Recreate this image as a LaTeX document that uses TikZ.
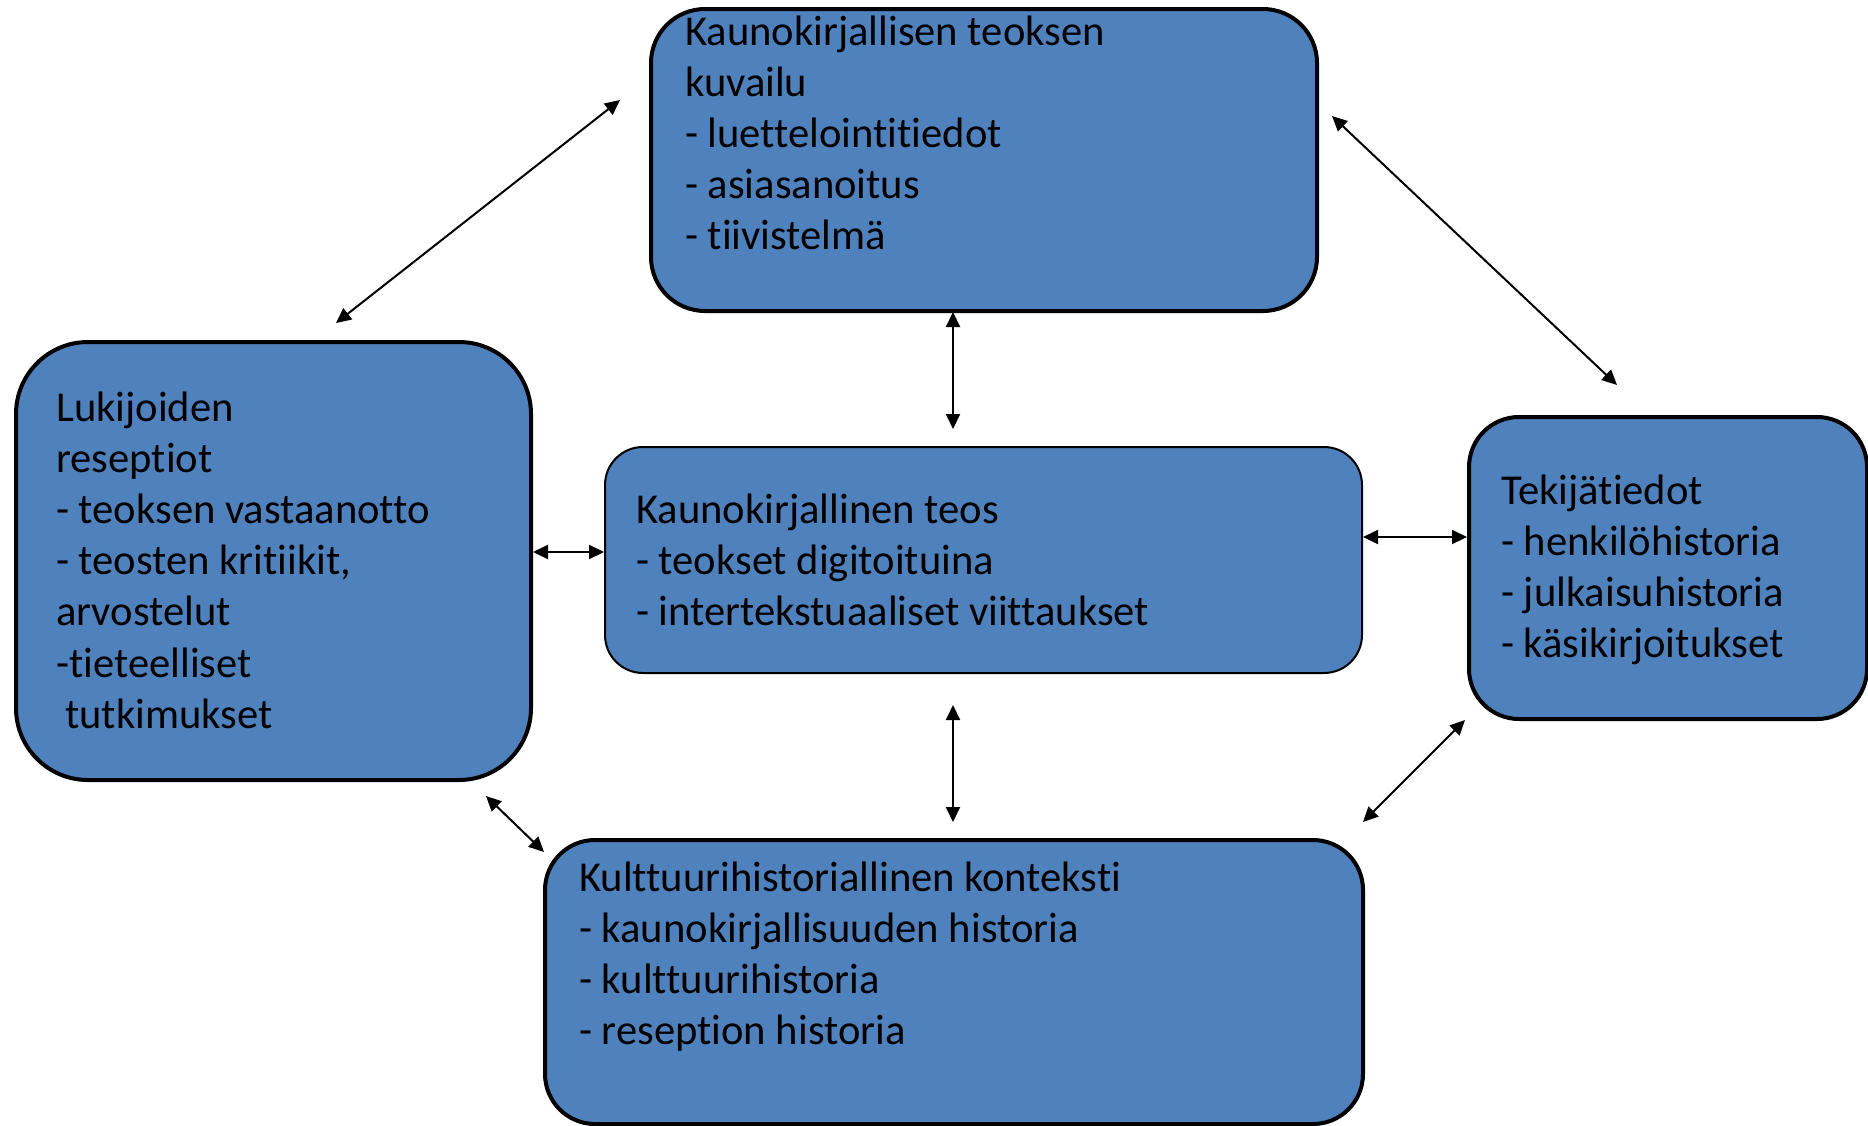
\documentclass[tikz,border=0pt]{standalone}
\usepackage{fontspec}
\setmainfont{Carlito}[Ligatures={NoCommon}]
\usetikzlibrary{arrows.meta}
\definecolor{boxblue}{HTML}{4F81BD}
\begin{document}
\begin{tikzpicture}[x=1pt,y=-1pt,
  box/.style={draw=black, fill=boxblue, line width=4pt, inner sep=0pt, anchor=north west},
  thinbox/.style={box, line width=2pt},
  txt/.style={anchor=base west, inner sep=0pt, font=\fontsize{42.6}{51.2}\selectfont},
  link/.style={line width=2pt, {Triangle[length=15pt,width=14pt]}-{Triangle[length=15pt,width=14pt]}}]
\useasboundingbox (0,0) rectangle (1868,1125);
% boxes
\node[box, minimum width=666pt, minimum height=302pt, rounded corners=54pt] (top) at (649,7) {};
\node[box, minimum width=515pt, minimum height=438pt, rounded corners=72pt] (left) at (14,340) {};
\node[thinbox, minimum width=757pt, minimum height=226pt, rounded corners=38pt] (center) at (604,446) {};
\node[box, minimum width=398pt, minimum height=302pt, rounded corners=50pt] (right) at (1467,415) {};
\node[box, minimum width=818pt, minimum height=284pt, rounded corners=50pt] (bottom) at (543,838) {};
% texts
\node[txt] (toptext) at (685,45) {\parbox[t]{620pt}{\raggedright Kaunokirjallisen teoksen\\kuvailu\\- luettelointitiedot\\- asiasanoitus\\- tiivistelmä}};
\node[txt] (lefttext) at (56,421) {\parbox[t]{470pt}{\raggedright Lukijoiden\\reseptiot\\- teoksen vastaanotto\\- teosten kritiikit,\\arvostelut\\-tieteelliset\\\hspace*{9pt}tutkimukset}};
\node[txt] (centertext) at (636,523) {\parbox[t]{700pt}{\raggedright Kaunokirjallinen teos\\- teokset digitoituina\\- intertekstuaaliset viittaukset}};
\node[txt] (righttext) at (1501,504) {\parbox[t]{360pt}{\raggedright Tekijätiedot\\- henkilöhistoria\\- julkaisuhistoria\\- käsikirjoitukset}};
\node[txt] (bottomtext) at (579,891) {\parbox[t]{780pt}{\raggedright Kulttuurihistoriallinen konteksti\\- kaunokirjallisuuden historia\\- kulttuurihistoria\\- reseption historia}};
% arrow end points
\coordinate (a1) at (336,323);
\coordinate (a2) at (620,100);
\coordinate (b1) at (1332,116);
\coordinate (b2) at (1617,385);
\coordinate (c1) at (953,312);
\coordinate (c2) at (953,429);
\coordinate (f1) at (953,705);
\coordinate (f2) at (953,822);
\coordinate (g1) at (486,796);
\coordinate (g2) at (544,852);
\coordinate (h1) at (1363,822);
\coordinate (h2) at (1465,720);
\coordinate (dy) at (0,552);
\coordinate (ey) at (0,537);
% connectors
\draw[link] (a1) -- (a2);
\draw[link] (b1) -- (b2);
\draw[link] (c1) -- (c2);
\draw[link] (left.east |- dy) -- (center.west |- dy);
\draw[link] (center.east |- ey) -- (right.west |- ey);
\draw[link] (f1) -- (f2);
\draw[link] (g1) -- (g2);
\draw[link] (h1) -- (h2);
\end{tikzpicture}
\end{document}
